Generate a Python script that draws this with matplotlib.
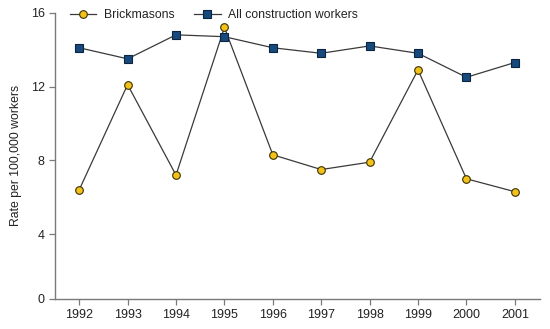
import matplotlib
matplotlib.use("Agg")
import matplotlib.pyplot as plt

years = [1992, 1993, 1994, 1995, 1996, 1997, 1998, 1999, 2000, 2001]
brickmasons = [6.4, 12.1, 7.2, 15.2, 8.3, 7.5, 7.9, 12.9, 7.0, 6.3]
all_construction = [14.1, 13.5, 14.8, 14.7, 14.1, 13.8, 14.2, 13.8, 12.5, 13.3]
ytick_values = [0.5, 4, 8, 12, 16]
ytick_labels = ["0", "4", "8", "12", "16"]

plt.rcParams["font.family"] = ["Liberation Sans", "DejaVu Sans"]

fig = plt.figure(figsize=(5.5, 3.29), dpi=100)
ax = fig.add_axes([0.1, 0.092, 0.8818, 0.8694])

line_color = "#3a3a3a"
ax.plot(years, brickmasons, color=line_color, lw=0.9, marker="o", ms=5.5,
        mfc="#f2c21b", mec="#3a3000", mew=0.8, label="Brickmasons", zorder=3)
ax.plot(years, all_construction, color=line_color, lw=0.9, marker="s", ms=5.5,
        mfc="#174a7c", mec="#0b2440", mew=0.8, label="All construction workers", zorder=3)

ax.set_xlim(1991.5, 2001.52)
ax.set_ylim(0.5, 16)
ax.set_xticks(years)
ax.set_xticklabels([str(y) for y in years])
ax.set_yticks(ytick_values)
ax.set_yticklabels(ytick_labels)

spine_color = "#7a7a7a"
for side in ("top", "right"):
    ax.spines[side].set_visible(False)
for side in ("left", "bottom"):
    ax.spines[side].set_color(spine_color)
    ax.spines[side].set_linewidth(1.0)
ax.tick_params(axis="both", colors=spine_color, labelcolor="#222222",
               labelsize=9, length=4, width=0.9, direction="out")

ax.set_ylabel("Rate per 100,000 workers", fontsize=8.8, color="#222222", labelpad=6)

leg = ax.legend(loc="upper left", bbox_to_anchor=(0.02, 1.03), ncol=2,
                frameon=False, fontsize=8.8, handlelength=2.2,
                columnspacing=1.6, handletextpad=0.6, borderaxespad=0)
for t in leg.get_texts():
    t.set_color("#222222")

fig.savefig("out.png", dpi=100, facecolor="white")
